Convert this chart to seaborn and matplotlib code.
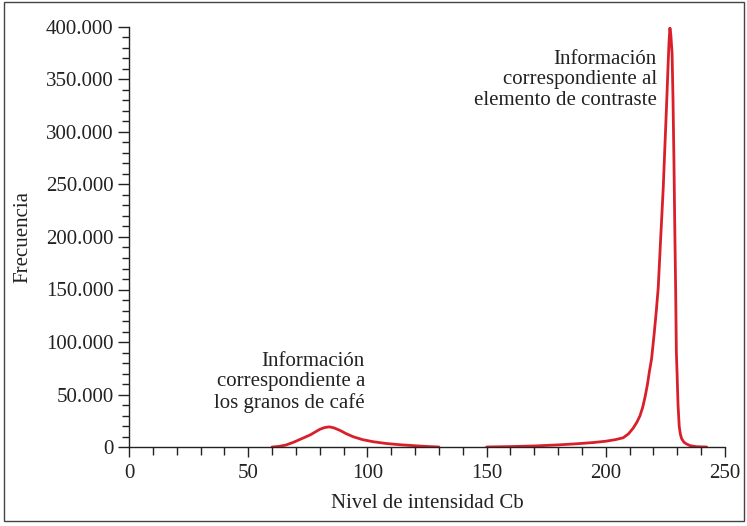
import matplotlib
matplotlib.use("Agg")
import matplotlib.pyplot as plt
import seaborn as sns
import pandas as pd
from matplotlib.ticker import MultipleLocator, FuncFormatter
from matplotlib.patches import Rectangle

# Data
cafe_x = [60, 63, 66, 69, 72, 76, 80, 82, 84, 86, 88.5, 91, 94, 98, 102.5, 108, 114, 120, 125, 130]
cafe_y = [0, 600, 2000, 4500, 7500, 11500, 16800, 18500, 19200, 18200, 15800, 12800, 9800, 7000, 5000, 3300, 2100, 1200, 500, 0]

contraste_x = [150, 160, 170, 180, 188, 195, 200, 204, 207.3, 209.5, 211.5, 213, 214.3, 215.5, 216.5, 217.5, 218.3, 219.2, 220.3, 221.2, 222, 223, 224.1, 224.8, 225.5, 226.1, 226.5, 226.9, 227.3, 227.8, 228.2, 228.6, 228.9, 229.3, 229.6, 229.9, 230.3, 230.8, 231.3, 231.8, 232.8, 233.9, 235.5, 238, 242.3]
contraste_y = [0, 400, 1000, 2000, 3100, 4300, 5500, 7000, 8800, 12500, 18000, 23500, 29500, 38000, 48000, 60000, 72000, 84000, 108000, 130000, 152000, 198000, 247000, 287000, 326000, 362000, 385000, 399000, 392000, 375000, 330000, 270000, 215000, 150000, 90000, 70000, 40000, 19500, 12000, 8000, 4500, 2800, 1200, 300, 0]

x_ticks = [0, 50, 100, 150, 200, 250]
y_ticks = [0, 50000, 100000, 150000, 200000, 250000, 300000, 350000, 400000]

df_cafe = pd.DataFrame({"x": cafe_x, "y": cafe_y})
df_con = pd.DataFrame({"x": contraste_x, "y": contraste_y})

sns.set_theme(style="ticks")
plt.rcParams["font.family"] = ["Liberation Serif", "DejaVu Serif"]
plt.rcParams["text.color"] = "#222222"

fig = plt.figure(figsize=(7.47, 5.26), dpi=100)
ax = fig.add_axes([129/747, 1-447/526, (725-129)/747, (447-27)/526])

red = "#d9202a"
sns.lineplot(data=df_cafe, x="x", y="y", ax=ax, color=red, linewidth=2.0, sort=False, estimator=None)
sns.lineplot(data=df_con, x="x", y="y", ax=ax, color=red, linewidth=2.0, sort=False, estimator=None)

ax.set_xlim(0, 250)
ax.set_ylim(0, 400000)
ax.set_xticks(x_ticks)
ax.set_yticks(y_ticks)
ax.xaxis.set_minor_locator(MultipleLocator(10))
ax.yaxis.set_minor_locator(MultipleLocator(10000))
ax.yaxis.set_major_formatter(FuncFormatter(lambda v, p: f"{int(v):,}".replace(",", ".")))

for s in ["top", "right"]:
    ax.spines[s].set_visible(False)
for s in ["left", "bottom"]:
    ax.spines[s].set_color("#222222")
    ax.spines[s].set_linewidth(1.0)

ax.tick_params(axis="y", which="major", length=8, width=1, color="#222222", labelsize=15, pad=3, labelcolor="#222222")
ax.tick_params(axis="y", which="minor", length=5, width=1, color="#222222")
ax.tick_params(axis="x", which="major", length=7, width=1, color="#222222", labelsize=15, pad=5, labelcolor="#222222")
ax.tick_params(axis="x", which="minor", length=6, width=1, color="#222222")

ax.set_xlabel("Nivel de intensidad Cb", fontsize=15, labelpad=8, color="#222222")
ax.set_ylabel("Frecuencia", fontsize=15, labelpad=10, color="#222222")

ax.text(365/747, 1-352/526, "Información\ncorrespondiente a\nlos granos de café",
        transform=fig.transFigure, ha="right", va="top", fontsize=15,
        linespacing=1.1, multialignment="right")
ax.text(657/747, 1-50/526, "Información\ncorrespondiente al\nelemento de contraste",
        transform=fig.transFigure, ha="right", va="top", fontsize=15,
        linespacing=1.1, multialignment="right")

fig.patches.append(Rectangle((4/747, 1-521/526), 740/747, 519/526, transform=fig.transFigure,
                             fill=False, edgecolor="#444444", linewidth=1.0))

fig.savefig("out.png", dpi=100)
